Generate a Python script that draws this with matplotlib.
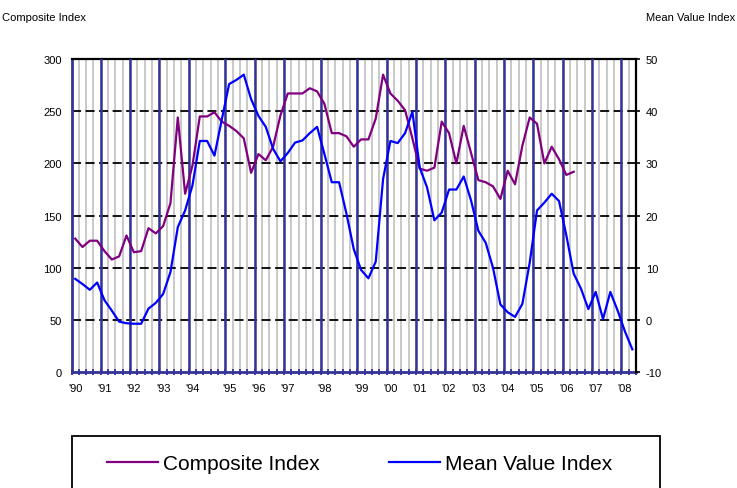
import numpy as np
import matplotlib
matplotlib.use('Agg')
import matplotlib.pyplot as plt
from matplotlib.lines import Line2D
from matplotlib.patches import Rectangle

# Year labels and how many periods (categories) each year holds
year_labels = ["'90", "'91", "'92", "'93", "'94", "'95", "'96", "'97", "'98", "'99",
               "'00", "'01", "'02", "'03", "'04", "'05", "'06", "'07", "'08"]
periods_per_year = [4, 4, 4, 4, 5, 4, 4, 5, 5, 4, 4, 4, 4, 4, 4, 4, 4, 4, 2]

# Composite Index (left axis)
composite = [128, 120, 126, 126, 116, 108, 111, 131, 115, 116,
             138, 133, 140, 162, 244, 171, 198, 245, 245, 249,
             240, 236, 231, 224, 191, 209, 203, 216, 246, 267,
             267, 267, 272, 269, 257, 229, 229, 226, 216, 223,
             223, 243, 285, 267, 260, 251, 224, 195, 193, 196,
             240, 229, 200, 236, 210, 184, 182, 178, 166, 193,
             180, 217, 244, 238, 200, 216, 204, 189, 192]

# Mean Value Index (right axis)
mean_value = [7.9, 6.9, 5.8, 7.2, 3.8, 1.8, -0.3, -0.6, -0.7, -0.7,
              2.2, 3.3, 5.0, 9.2, 17.8, 21.0, 25.8, 34.3, 34.3, 31.5,
              38.4, 45.2, 46.0, 47.0, 42.3, 39.1, 37.0, 32.8, 30.4, 32.0,
              34.0, 34.4, 35.8, 37.0, 31.8, 26.4, 26.4, 20.4, 13.6, 9.6,
              8.0, 11.2, 27.0, 34.3, 33.9, 35.8, 39.9, 29.2, 25.4, 19.1,
              20.6, 25.0, 25.0, 27.5, 22.9, 17.1, 14.8, 10.0, 3.0, 1.5,
              0.6, 3.1, 11.0, 21.0, 22.5, 24.2, 22.8, 16.2, 8.9, 6.0,
              2.1, 5.4, 0.2, 5.4, 1.8, -2.2, -5.6]


def main():
    plt.rcParams['font.family'] = ['Liberation Sans', 'DejaVu Sans']
    plt.rcParams['axes.unicode_minus'] = False
    W, H = 737, 489
    fig = plt.figure(figsize=(W / 100, H / 100), dpi=100)
    left, right, top, bottom = 71.5, 636, 60, 373.3
    ax = fig.add_axes([left / W, 1 - bottom / H, (right - left) / W, (bottom - top) / H])
    ax2 = ax.twinx()

    navy = '#333399'
    n = len(mean_value)
    x_comp = np.arange(len(composite)) + 0.5
    x_mean = np.arange(n) + 0.5
    year_starts = np.concatenate([[0], np.cumsum(periods_per_year)[:-1]])

    # grid: gray at every period, navy at every year, dashed horizontals
    for k in range(1, n):
        ax.axvline(k, color='#c0c0c0', lw=1.2, zorder=1)
    for yv in range(50, 300, 50):
        ax.axhline(yv, color='black', lw=1.3, ls=(0, (5, 2.5)), zorder=2)
    for s in year_starts[1:]:
        ax.axvline(s, color=navy, lw=1.8, zorder=3)

    ax.plot(x_comp, composite, color='#800080', lw=1.6, zorder=4)
    ax2.plot(x_mean, mean_value, color='#0000ff', lw=1.6, zorder=4)

    ax.set_xlim(0, n)
    ax.set_ylim(0, 300)
    ax2.set_ylim(-10, 50)
    ax.set_yticks(range(0, 301, 50))
    ax2.set_yticks(range(-10, 51, 10))

    ax.set_xticks(year_starts + 0.5, year_labels)
    ax.set_xticks(np.arange(n + 1), minor=True)
    ax.tick_params(axis='x', which='major', length=0, pad=8, labelsize=8)
    ax.tick_params(axis='x', which='minor', direction='inout', length=5,
                   width=1.3, color=navy)
    ax.tick_params(axis='y', length=0, pad=7, labelsize=8)
    ax2.tick_params(axis='y', direction='out', length=3, width=1.2,
                    color='black', pad=4, labelsize=8)

    ax.spines['left'].set_color(navy)
    ax.spines['left'].set_linewidth(2)
    ax.spines['bottom'].set_color(navy)
    ax.spines['bottom'].set_linewidth(2)
    ax.spines['top'].set_linewidth(1.6)
    ax.spines['right'].set_visible(False)
    for sp in ['left', 'bottom', 'top']:
        ax2.spines[sp].set_visible(False)
    ax2.spines['right'].set_linewidth(1.6)

    fig.text(2 / W, 1 - 18 / H, 'Composite Index', fontsize=8, va='center', ha='left')
    fig.text(735 / W, 1 - 18 / H, 'Mean Value Index', fontsize=8, va='center', ha='right')

    # legend box (runs past the bottom of the picture)
    fig.add_artist(Rectangle((72 / W, -0.1), (660 - 72) / W, 0.1 + 1 - 437 / H,
                             transform=fig.transFigure, fill=False,
                             ec='black', lw=1.3))
    handles = [Line2D([], [], color='#800080', lw=1.6),
               Line2D([], [], color='#0000ff', lw=1.6)]
    fig.legend(handles, ['Composite Index', 'Mean Value Index'], ncol=2,
               frameon=False, loc='center left',
               bbox_to_anchor=(107 / W, 1 - 465 / H), fontsize=15,
               handlelength=2.45, handletextpad=0.25, columnspacing=3.3,
               borderpad=0, borderaxespad=0)

    fig.savefig('out.png', dpi=100)


if __name__ == "__main__":
    main()
